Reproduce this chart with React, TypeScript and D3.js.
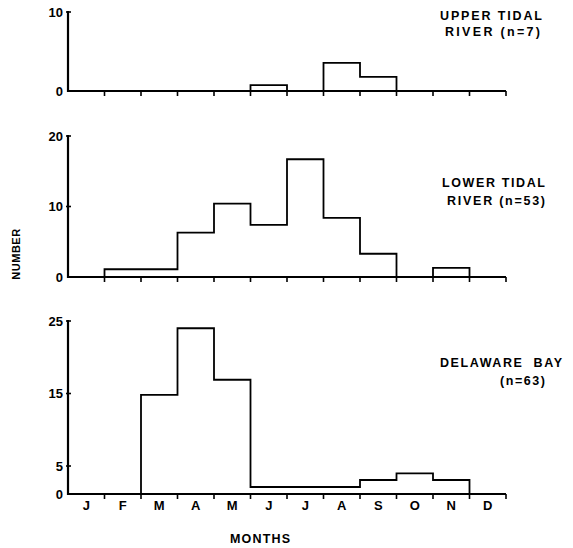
import React from "react";
import * as d3 from "d3";

const months = ["J", "F", "M", "A", "M", "J", "J", "A", "S", "O", "N", "D"];

const upperTidal = [0, 0, 0, 0, 0, 0.75, 0, 3.55, 1.8, 0, 0, 0];
const lowerTidal = [0, 1.1, 1.1, 6.3, 10.4, 7.4, 16.7, 8.4, 3.3, 0, 1.3, 0];
const delawareBay = [0, 0, 14.8, 24, 16.9, 1.25, 1.25, 1.25, 2.5, 3.7, 2.5, 0];

const upperTicks = [0, 10];
const lowerTicks = [0, 10, 20];
const bayTicks = [0, 5, 15, 25];

const FONT = "'Liberation Sans', Arial, sans-serif";

const x = d3.scaleLinear().domain([0, 12]).range([68, 506]);

const panels = [
  {
    values: upperTidal,
    ticks: upperTicks,
    y: d3.scaleLinear().domain([0, 10]).range([91, 12]),
    label: [
      { text: "UPPER TIDAL", x: 440, y: 20, len: 102 },
      { text: "RIVER (n=7)", x: 445, y: 36, len: 95 },
    ],
  },
  {
    values: lowerTidal,
    ticks: lowerTicks,
    y: d3.scaleLinear().domain([0, 20]).range([277, 136]),
    label: [
      { text: "LOWER TIDAL", x: 442, y: 187, len: 103 },
      { text: "RIVER (n=53)", x: 447, y: 205, len: 98 },
    ],
  },
  {
    values: delawareBay,
    ticks: bayTicks,
    // the printed axis is not evenly spaced below 5
    y: d3.scaleLinear().domain([0, 5, 25]).range([494, 466, 321]),
    label: [
      { text: "DELAWARE  BAY", x: 440, y: 367, len: 122 },
      { text: "(n=63)", x: 500, y: 385, len: 45 },
    ],
  },
];

function Panel({ p, showMonths }) {
  const y0 = p.y(0);
  const top = p.y(p.ticks[p.ticks.length - 1]);

  // histogram outline as a step path
  const pts = [];
  p.values.forEach((v, i) => {
    pts.push([x(i), p.y(v)]);
    pts.push([x(i + 1), p.y(v)]);
  });
  pts.unshift([x(0), y0]);
  pts.push([x(12), y0]);
  const path = d3.line()(pts);

  return (
    <g>
      <path d={path} fill="none" stroke="#000" strokeWidth={1.8} strokeLinejoin="miter" />
      {/* axes */}
      <line x1={x(0)} x2={x(0)} y1={top - 1} y2={y0 + 1} stroke="#000" strokeWidth={2.2} />
      <line x1={x(0) - 1} x2={x(12)} y1={y0} y2={y0} stroke="#000" strokeWidth={2.2} />
      {d3.range(1, 13).map((i) => (
        <line key={i} x1={x(i)} x2={x(i)} y1={y0} y2={y0 + 5} stroke="#000" strokeWidth={1.6} />
      ))}
      {p.ticks.map((t) => (
        <g key={t}>
          {t !== 0 && (
            <line x1={x(0) - 2} x2={x(0) + 3} y1={p.y(t)} y2={p.y(t)} stroke="#000" strokeWidth={1.6} />
          )}
          <text
            x={x(0) - 5}
            y={p.y(t) + 4.5}
            textAnchor="end"
            fontFamily={FONT}
            fontWeight="bold"
            fontSize={13}
          >
            {t}
          </text>
        </g>
      ))}
      {p.label.map((l) => (
        <text
          key={l.text}
          x={l.x}
          y={l.y}
          fontFamily={FONT}
          fontWeight="bold"
          fontSize={12.5}
          textLength={l.len}
          lengthAdjust="spacing"
          style={{ whiteSpace: "pre" }}
        >
          {l.text}
        </text>
      ))}
      {showMonths &&
        months.map((m, i) => (
          <text
            key={i}
            x={(x(i) + x(i + 1)) / 2}
            y={510}
            textAnchor="middle"
            fontFamily={FONT}
            fontWeight="bold"
            fontSize={13}
          >
            {m}
          </text>
        ))}
    </g>
  );
}

export default function App() {
  return (
    <svg
      width={573}
      height={548}
      style={{ position: "absolute", left: 0, top: 0, background: "#fff" }}
    >
      {panels.map((p, i) => (
        <Panel key={i} p={p} showMonths={i === 2} />
      ))}
      <text
        x={230}
        y={543}
        fontFamily={FONT}
        fontWeight="bold"
        fontSize={12.5}
        textLength={60}
        lengthAdjust="spacing"
      >
        MONTHS
      </text>
      <text
        transform="translate(20,254) rotate(-90)"
        textAnchor="middle"
        fontFamily={FONT}
        fontWeight="bold"
        fontSize={11}
        letterSpacing={0.5}
      >
        NUMBER
      </text>
    </svg>
  );
}
